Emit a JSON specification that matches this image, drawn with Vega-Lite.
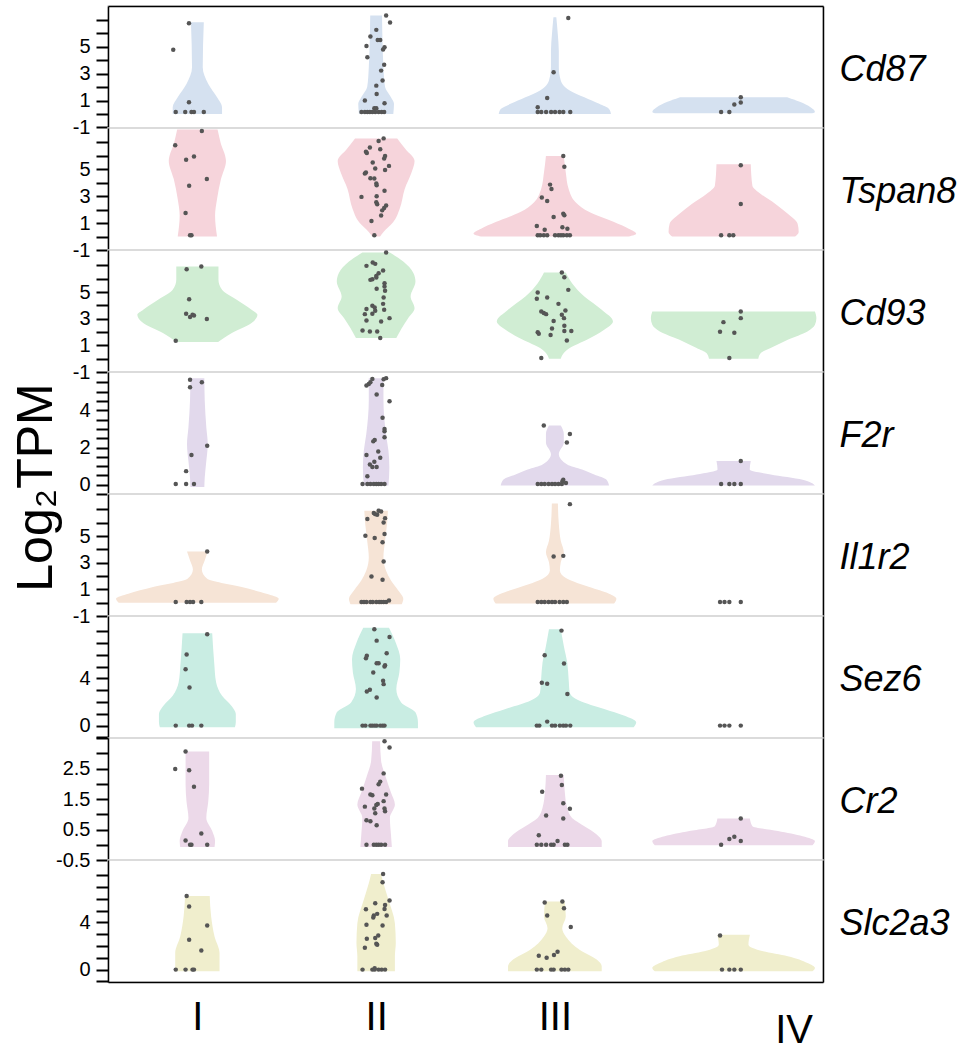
{
  "$schema": "https://vega.github.io/schema/vega-lite/v6.json",
  "padding": {"left": 10, "top": 5, "right": 0, "bottom": 0},
  "spacing": 0,
  "bounds": "flush",
  "config": {
    "view": {"stroke": "#d9d9d9", "strokeWidth": 1.5},
    "font": "Liberation Sans",
    "axis": {"grid": false, "labelFont": "Liberation Sans", "labelFontSize": 20, "labelColor": "black", "tickColor": "black", "tickWidth": 2, "tickSize": 12, "labelPadding": 6, "domainColor": "black", "domainWidth": 1.5, "labelOverlap": false, "titleFont": "Liberation Sans", "titleFontWeight": "normal", "titleColor": "black"},
    "axisRight": {"labels": false, "ticks": false, "titleAngle": 0, "titleAlign": "left", "titleBaseline": "middle", "titleX": 16, "titleY": 63, "titleFontSize": 36, "titleFontStyle": "italic"}
  },
  "datasets": {
    "vio": [
      {"g":"Cd87","k":"I","v":6.84,"lo":0.464,"hi":0.536},{"g":"Cd87","k":"I","v":3.48,"lo":0.470,"hi":0.530},{"g":"Cd87","k":"I","v":2.24,"lo":0.439,"hi":0.561},{"g":"Cd87","k":"I","v":1.24,"lo":0.390,"hi":0.610},{"g":"Cd87","k":"I","v":0.5,"lo":0.362,"hi":0.638},{"g":"Cd87","k":"I","v":0,"lo":0.362,"hi":0.638},
      {"g":"Cd87","k":"II","v":7.34,"lo":1.467,"hi":1.533},{"g":"Cd87","k":"II","v":3.48,"lo":1.459,"hi":1.541},{"g":"Cd87","k":"II","v":2.0,"lo":1.450,"hi":1.550},{"g":"Cd87","k":"II","v":1.24,"lo":1.417,"hi":1.583},{"g":"Cd87","k":"II","v":0.75,"lo":1.400,"hi":1.600},{"g":"Cd87","k":"II","v":0,"lo":1.404,"hi":1.596},
      {"g":"Cd87","k":"III","v":7.21,"lo":2.492,"hi":2.508},{"g":"Cd87","k":"III","v":6.0,"lo":2.484,"hi":2.516},{"g":"Cd87","k":"III","v":4.7,"lo":2.478,"hi":2.522},{"g":"Cd87","k":"III","v":3.5,"lo":2.478,"hi":2.522},{"g":"Cd87","k":"III","v":2.5,"lo":2.467,"hi":2.533},{"g":"Cd87","k":"III","v":1.75,"lo":2.417,"hi":2.583},{"g":"Cd87","k":"III","v":1.24,"lo":2.335,"hi":2.665},{"g":"Cd87","k":"III","v":0.75,"lo":2.252,"hi":2.748},{"g":"Cd87","k":"III","v":0.37,"lo":2.197,"hi":2.803},{"g":"Cd87","k":"III","v":0,"lo":2.186,"hi":2.814},
      {"g":"Cd87","k":"IV","v":1.24,"lo":3.20,"hi":3.80},{"g":"Cd87","k":"IV","v":0.9,"lo":3.13,"hi":3.87},{"g":"Cd87","k":"IV","v":0.5,"lo":3.07,"hi":3.93},{"g":"Cd87","k":"IV","v":0.15,"lo":3.045,"hi":3.955},{"g":"Cd87","k":"IV","v":0.05,"lo":3.06,"hi":3.94},

      {"g":"Tspan8","k":"I","v":7.94,"lo":0.387,"hi":0.613},{"g":"Tspan8","k":"I","v":6.96,"lo":0.370,"hi":0.630},{"g":"Tspan8","k":"I","v":5.61,"lo":0.340,"hi":0.660},{"g":"Tspan8","k":"I","v":4.26,"lo":0.368,"hi":0.632},{"g":"Tspan8","k":"I","v":2.79,"lo":0.390,"hi":0.610},{"g":"Tspan8","k":"I","v":1.56,"lo":0.401,"hi":0.599},{"g":"Tspan8","k":"I","v":0,"lo":0.390,"hi":0.610},
      {"g":"Tspan8","k":"II","v":7.28,"lo":1.382,"hi":1.618},{"g":"Tspan8","k":"II","v":6.47,"lo":1.335,"hi":1.665},{"g":"Tspan8","k":"II","v":5.61,"lo":1.285,"hi":1.715},{"g":"Tspan8","k":"II","v":4.75,"lo":1.302,"hi":1.698},{"g":"Tspan8","k":"II","v":3.53,"lo":1.340,"hi":1.660},{"g":"Tspan8","k":"II","v":2.06,"lo":1.368,"hi":1.632},{"g":"Tspan8","k":"II","v":1.07,"lo":1.404,"hi":1.596},{"g":"Tspan8","k":"II","v":0.34,"lo":1.459,"hi":1.541},{"g":"Tspan8","k":"II","v":0,"lo":1.478,"hi":1.522},
      {"g":"Tspan8","k":"III","v":5.98,"lo":2.450,"hi":2.550},{"g":"Tspan8","k":"III","v":4.75,"lo":2.439,"hi":2.561},{"g":"Tspan8","k":"III","v":3.53,"lo":2.423,"hi":2.577},{"g":"Tspan8","k":"III","v":2.55,"lo":2.384,"hi":2.616},{"g":"Tspan8","k":"III","v":1.81,"lo":2.307,"hi":2.693},{"g":"Tspan8","k":"III","v":1.07,"lo":2.169,"hi":2.831},{"g":"Tspan8","k":"III","v":0.58,"lo":2.087,"hi":2.913},{"g":"Tspan8","k":"III","v":0.21,"lo":2.045,"hi":2.955},{"g":"Tspan8","k":"III","v":0,"lo":2.087,"hi":2.913},
      {"g":"Tspan8","k":"IV","v":5.37,"lo":3.404,"hi":3.596},{"g":"Tspan8","k":"IV","v":3.77,"lo":3.395,"hi":3.605},{"g":"Tspan8","k":"IV","v":3.16,"lo":3.348,"hi":3.652},{"g":"Tspan8","k":"IV","v":2.42,"lo":3.266,"hi":3.734},{"g":"Tspan8","k":"IV","v":1.69,"lo":3.197,"hi":3.803},{"g":"Tspan8","k":"IV","v":0.95,"lo":3.142,"hi":3.858},{"g":"Tspan8","k":"IV","v":0.34,"lo":3.136,"hi":3.864},{"g":"Tspan8","k":"IV","v":0,"lo":3.156,"hi":3.844},

      {"g":"Cd93","k":"I","v":6.91,"lo":0.382,"hi":0.618},{"g":"Cd93","k":"I","v":5.91,"lo":0.382,"hi":0.618},{"g":"Cd93","k":"I","v":5.16,"lo":0.362,"hi":0.638},{"g":"Cd93","k":"I","v":4.41,"lo":0.280,"hi":0.720},{"g":"Cd93","k":"I","v":3.67,"lo":0.197,"hi":0.803},{"g":"Cd93","k":"I","v":3.29,"lo":0.164,"hi":0.836},{"g":"Cd93","k":"I","v":2.67,"lo":0.197,"hi":0.803},{"g":"Cd93","k":"I","v":1.92,"lo":0.307,"hi":0.693},{"g":"Cd93","k":"I","v":1.25,"lo":0.384,"hi":0.616},
      {"g":"Cd93","k":"II","v":7.96,"lo":1.423,"hi":1.577},{"g":"Cd93","k":"II","v":7.28,"lo":1.348,"hi":1.652},{"g":"Cd93","k":"II","v":6.41,"lo":1.291,"hi":1.709},{"g":"Cd93","k":"II","v":5.79,"lo":1.280,"hi":1.720},{"g":"Cd93","k":"II","v":4.66,"lo":1.307,"hi":1.693},{"g":"Cd93","k":"II","v":3.79,"lo":1.285,"hi":1.715},{"g":"Cd93","k":"II","v":3.04,"lo":1.321,"hi":1.679},{"g":"Cd93","k":"II","v":2.29,"lo":1.357,"hi":1.643},{"g":"Cd93","k":"II","v":1.55,"lo":1.387,"hi":1.613},
      {"g":"Cd93","k":"III","v":6.46,"lo":2.439,"hi":2.561},{"g":"Cd93","k":"III","v":5.66,"lo":2.404,"hi":2.596},{"g":"Cd93","k":"III","v":4.66,"lo":2.335,"hi":2.665},{"g":"Cd93","k":"III","v":3.67,"lo":2.238,"hi":2.762},{"g":"Cd93","k":"III","v":2.79,"lo":2.175,"hi":2.825},{"g":"Cd93","k":"III","v":2.17,"lo":2.224,"hi":2.776},{"g":"Cd93","k":"III","v":1.42,"lo":2.321,"hi":2.679},{"g":"Cd93","k":"III","v":0.80,"lo":2.417,"hi":2.583},{"g":"Cd93","k":"III","v":0.42,"lo":2.450,"hi":2.550},{"g":"Cd93","k":"III","v":0,"lo":2.467,"hi":2.533},
      {"g":"Cd93","k":"IV","v":3.54,"lo":3.045,"hi":3.955},{"g":"Cd93","k":"IV","v":3.04,"lo":3.037,"hi":3.963},{"g":"Cd93","k":"IV","v":2.54,"lo":3.045,"hi":3.955},{"g":"Cd93","k":"IV","v":2.04,"lo":3.087,"hi":3.913},{"g":"Cd93","k":"IV","v":1.42,"lo":3.197,"hi":3.803},{"g":"Cd93","k":"IV","v":0.80,"lo":3.293,"hi":3.707},{"g":"Cd93","k":"IV","v":0.42,"lo":3.348,"hi":3.652},{"g":"Cd93","k":"IV","v":0,"lo":3.362,"hi":3.638},

      {"g":"F2r","k":"I","v":5.73,"lo":0.461,"hi":0.539},{"g":"F2r","k":"I","v":4.55,"lo":0.459,"hi":0.541},{"g":"F2r","k":"I","v":3.09,"lo":0.450,"hi":0.550},{"g":"F2r","k":"I","v":2.18,"lo":0.442,"hi":0.558},{"g":"F2r","k":"I","v":1.27,"lo":0.450,"hi":0.550},{"g":"F2r","k":"I","v":0.36,"lo":0.459,"hi":0.541},{"g":"F2r","k":"I","v":-0.13,"lo":0.461,"hi":0.539},
      {"g":"F2r","k":"II","v":5.73,"lo":1.459,"hi":1.541},{"g":"F2r","k":"II","v":4.55,"lo":1.459,"hi":1.541},{"g":"F2r","k":"II","v":2.73,"lo":1.445,"hi":1.555},{"g":"F2r","k":"II","v":1.82,"lo":1.431,"hi":1.569},{"g":"F2r","k":"II","v":0.91,"lo":1.426,"hi":1.574},{"g":"F2r","k":"II","v":-0.04,"lo":1.431,"hi":1.569},
      {"g":"F2r","k":"III","v":3.18,"lo":2.467,"hi":2.533},{"g":"F2r","k":"III","v":2.73,"lo":2.450,"hi":2.550},{"g":"F2r","k":"III","v":2.27,"lo":2.450,"hi":2.550},{"g":"F2r","k":"III","v":1.64,"lo":2.478,"hi":2.522},{"g":"F2r","k":"III","v":1.09,"lo":2.431,"hi":2.569},{"g":"F2r","k":"III","v":0.82,"lo":2.348,"hi":2.652},{"g":"F2r","k":"III","v":0.55,"lo":2.280,"hi":2.720},{"g":"F2r","k":"III","v":0.27,"lo":2.211,"hi":2.789},{"g":"F2r","k":"III","v":-0.04,"lo":2.197,"hi":2.803},
      {"g":"F2r","k":"IV","v":1.27,"lo":3.404,"hi":3.596},{"g":"F2r","k":"IV","v":0.82,"lo":3.410,"hi":3.590},{"g":"F2r","k":"IV","v":0.55,"lo":3.293,"hi":3.707},{"g":"F2r","k":"IV","v":0.27,"lo":3.114,"hi":3.886},{"g":"F2r","k":"IV","v":-0.04,"lo":3.045,"hi":3.955},

      {"g":"Il1r2","k":"I","v":3.83,"lo":0.442,"hi":0.558},{"g":"Il1r2","k":"I","v":3.16,"lo":0.459,"hi":0.541},{"g":"Il1r2","k":"I","v":2.49,"lo":0.475,"hi":0.525},{"g":"Il1r2","k":"I","v":1.79,"lo":0.445,"hi":0.555},{"g":"Il1r2","k":"I","v":1.17,"lo":0.252,"hi":0.748},{"g":"Il1r2","k":"I","v":0.67,"lo":0.114,"hi":0.886},{"g":"Il1r2","k":"I","v":0.30,"lo":0.045,"hi":0.955},{"g":"Il1r2","k":"I","v":0,"lo":0.060,"hi":0.940},
      {"g":"Il1r2","k":"II","v":6.89,"lo":1.434,"hi":1.566},{"g":"Il1r2","k":"II","v":5.90,"lo":1.439,"hi":1.561},{"g":"Il1r2","k":"II","v":4.65,"lo":1.450,"hi":1.550},{"g":"Il1r2","k":"II","v":3.41,"lo":1.459,"hi":1.541},{"g":"Il1r2","k":"II","v":2.41,"lo":1.445,"hi":1.555},{"g":"Il1r2","k":"II","v":1.67,"lo":1.417,"hi":1.583},{"g":"Il1r2","k":"II","v":0.92,"lo":1.376,"hi":1.624},{"g":"Il1r2","k":"II","v":0.30,"lo":1.348,"hi":1.652},{"g":"Il1r2","k":"II","v":-0.12,"lo":1.357,"hi":1.643},
      {"g":"Il1r2","k":"III","v":7.44,"lo":2.483,"hi":2.517},{"g":"Il1r2","k":"III","v":5.90,"lo":2.478,"hi":2.522},{"g":"Il1r2","k":"III","v":4.65,"lo":2.467,"hi":2.533},{"g":"Il1r2","k":"III","v":3.78,"lo":2.450,"hi":2.550},{"g":"Il1r2","k":"III","v":3.03,"lo":2.467,"hi":2.533},{"g":"Il1r2","k":"III","v":2.41,"lo":2.472,"hi":2.528},{"g":"Il1r2","k":"III","v":1.79,"lo":2.431,"hi":2.569},{"g":"Il1r2","k":"III","v":1.17,"lo":2.307,"hi":2.693},{"g":"Il1r2","k":"III","v":0.67,"lo":2.197,"hi":2.803},{"g":"Il1r2","k":"III","v":0.30,"lo":2.156,"hi":2.844},{"g":"Il1r2","k":"III","v":-0.07,"lo":2.169,"hi":2.831},

      {"g":"Sez6","k":"I","v":7.83,"lo":0.417,"hi":0.583},{"g":"Sez6","k":"I","v":5.35,"lo":0.406,"hi":0.594},{"g":"Sez6","k":"I","v":3.66,"lo":0.395,"hi":0.605},{"g":"Sez6","k":"I","v":2.54,"lo":0.362,"hi":0.638},{"g":"Sez6","k":"I","v":1.69,"lo":0.310,"hi":0.690},{"g":"Sez6","k":"I","v":0.99,"lo":0.285,"hi":0.715},{"g":"Sez6","k":"I","v":0.28,"lo":0.285,"hi":0.715},{"g":"Sez6","k":"I","v":-0.14,"lo":0.290,"hi":0.710},
      {"g":"Sez6","k":"II","v":8.31,"lo":1.428,"hi":1.572},{"g":"Sez6","k":"II","v":7.04,"lo":1.390,"hi":1.610},{"g":"Sez6","k":"II","v":5.63,"lo":1.365,"hi":1.635},{"g":"Sez6","k":"II","v":4.51,"lo":1.370,"hi":1.630},{"g":"Sez6","k":"II","v":3.10,"lo":1.387,"hi":1.613},{"g":"Sez6","k":"II","v":1.97,"lo":1.360,"hi":1.640},{"g":"Sez6","k":"II","v":1.13,"lo":1.280,"hi":1.720},{"g":"Sez6","k":"II","v":0.28,"lo":1.266,"hi":1.734},{"g":"Sez6","k":"II","v":-0.23,"lo":1.266,"hi":1.734},
      {"g":"Sez6","k":"III","v":8.17,"lo":2.467,"hi":2.533},{"g":"Sez6","k":"III","v":6.76,"lo":2.450,"hi":2.550},{"g":"Sez6","k":"III","v":5.35,"lo":2.431,"hi":2.569},{"g":"Sez6","k":"III","v":3.94,"lo":2.423,"hi":2.577},{"g":"Sez6","k":"III","v":2.82,"lo":2.417,"hi":2.583},{"g":"Sez6","k":"III","v":2.11,"lo":2.362,"hi":2.638},{"g":"Sez6","k":"III","v":1.41,"lo":2.224,"hi":2.776},{"g":"Sez6","k":"III","v":0.85,"lo":2.114,"hi":2.886},{"g":"Sez6","k":"III","v":0.28,"lo":2.045,"hi":2.955},{"g":"Sez6","k":"III","v":-0.14,"lo":2.059,"hi":2.941},

      {"g":"Cr2","k":"I","v":3.06,"lo":0.434,"hi":0.566},{"g":"Cr2","k":"I","v":1.98,"lo":0.434,"hi":0.566},{"g":"Cr2","k":"I","v":1.43,"lo":0.439,"hi":0.561},{"g":"Cr2","k":"I","v":0.88,"lo":0.450,"hi":0.550},{"g":"Cr2","k":"I","v":0.45,"lo":0.417,"hi":0.583},{"g":"Cr2","k":"I","v":0.12,"lo":0.401,"hi":0.599},{"g":"Cr2","k":"I","v":-0.07,"lo":0.404,"hi":0.596},
      {"g":"Cr2","k":"II","v":3.39,"lo":1.478,"hi":1.522},{"g":"Cr2","k":"II","v":2.75,"lo":1.472,"hi":1.528},{"g":"Cr2","k":"II","v":2.20,"lo":1.445,"hi":1.555},{"g":"Cr2","k":"II","v":1.71,"lo":1.417,"hi":1.583},{"g":"Cr2","k":"II","v":1.32,"lo":1.395,"hi":1.605},{"g":"Cr2","k":"II","v":0.88,"lo":1.423,"hi":1.577},{"g":"Cr2","k":"II","v":0.34,"lo":1.417,"hi":1.583},{"g":"Cr2","k":"II","v":-0.07,"lo":1.412,"hi":1.588},
      {"g":"Cr2","k":"III","v":2.29,"lo":2.450,"hi":2.550},{"g":"Cr2","k":"III","v":1.76,"lo":2.445,"hi":2.555},{"g":"Cr2","k":"III","v":1.21,"lo":2.431,"hi":2.569},{"g":"Cr2","k":"III","v":0.88,"lo":2.404,"hi":2.596},{"g":"Cr2","k":"III","v":0.61,"lo":2.335,"hi":2.665},{"g":"Cr2","k":"III","v":0.34,"lo":2.266,"hi":2.734},{"g":"Cr2","k":"III","v":0.12,"lo":2.238,"hi":2.762},{"g":"Cr2","k":"III","v":-0.07,"lo":2.238,"hi":2.762},
      {"g":"Cr2","k":"IV","v":0.86,"lo":3.409,"hi":3.591},{"g":"Cr2","k":"IV","v":0.61,"lo":3.395,"hi":3.605},{"g":"Cr2","k":"IV","v":0.45,"lo":3.252,"hi":3.748},{"g":"Cr2","k":"IV","v":0.28,"lo":3.114,"hi":3.886},{"g":"Cr2","k":"IV","v":0.12,"lo":3.045,"hi":3.955},{"g":"Cr2","k":"IV","v":-0.02,"lo":3.059,"hi":3.941},

      {"g":"Slc2a3","k":"I","v":6.25,"lo":0.431,"hi":0.569},{"g":"Slc2a3","k":"I","v":4.51,"lo":0.423,"hi":0.577},{"g":"Slc2a3","k":"I","v":2.82,"lo":0.404,"hi":0.596},{"g":"Slc2a3","k":"I","v":1.41,"lo":0.376,"hi":0.624},{"g":"Slc2a3","k":"I","v":0.28,"lo":0.376,"hi":0.624},{"g":"Slc2a3","k":"I","v":-0.14,"lo":0.376,"hi":0.624},
      {"g":"Slc2a3","k":"II","v":8.11,"lo":1.472,"hi":1.528},{"g":"Slc2a3","k":"II","v":7.32,"lo":1.459,"hi":1.541},{"g":"Slc2a3","k":"II","v":5.92,"lo":1.431,"hi":1.569},{"g":"Slc2a3","k":"II","v":3.94,"lo":1.395,"hi":1.605},{"g":"Slc2a3","k":"II","v":2.25,"lo":1.390,"hi":1.610},{"g":"Slc2a3","k":"II","v":1.13,"lo":1.395,"hi":1.605},{"g":"Slc2a3","k":"II","v":-0.14,"lo":1.395,"hi":1.605},
      {"g":"Slc2a3","k":"III","v":5.77,"lo":2.445,"hi":2.555},{"g":"Slc2a3","k":"III","v":4.51,"lo":2.439,"hi":2.561},{"g":"Slc2a3","k":"III","v":3.52,"lo":2.459,"hi":2.541},{"g":"Slc2a3","k":"III","v":2.82,"lo":2.439,"hi":2.561},{"g":"Slc2a3","k":"III","v":1.69,"lo":2.362,"hi":2.638},{"g":"Slc2a3","k":"III","v":0.85,"lo":2.266,"hi":2.734},{"g":"Slc2a3","k":"III","v":0.28,"lo":2.238,"hi":2.762},{"g":"Slc2a3","k":"III","v":-0.14,"lo":2.238,"hi":2.762},
      {"g":"Slc2a3","k":"IV","v":2.96,"lo":3.409,"hi":3.591},{"g":"Slc2a3","k":"IV","v":2.11,"lo":3.417,"hi":3.583},{"g":"Slc2a3","k":"IV","v":1.55,"lo":3.335,"hi":3.665},{"g":"Slc2a3","k":"IV","v":1.13,"lo":3.197,"hi":3.803},{"g":"Slc2a3","k":"IV","v":0.56,"lo":3.087,"hi":3.913},{"g":"Slc2a3","k":"IV","v":0.14,"lo":3.045,"hi":3.955},{"g":"Slc2a3","k":"IV","v":-0.14,"lo":3.059,"hi":3.941}
    ],
    "pts": [
      {"g":"Cd87","x":0.379,"v":0.15},{"g":"Cd87","x":0.432,"v":0.15},{"g":"Cd87","x":0.467,"v":0.15},{"g":"Cd87","x":0.481,"v":0.15},{"g":"Cd87","x":0.536,"v":0.15},{"g":"Cd87","x":0.453,"v":0.87},{"g":"Cd87","x":0.365,"v":4.78},{"g":"Cd87","x":0.453,"v":6.77},
      {"g":"Cd87","x":1.556,"v":7.34},{"g":"Cd87","x":1.578,"v":6.82},{"g":"Cd87","x":1.501,"v":6.27},{"g":"Cd87","x":1.468,"v":5.77},{"g":"Cd87","x":1.509,"v":5.52},{"g":"Cd87","x":1.523,"v":5.52},{"g":"Cd87","x":1.446,"v":5.07},{"g":"Cd87","x":1.547,"v":4.98},{"g":"Cd87","x":1.539,"v":4.80},{"g":"Cd87","x":1.451,"v":4.23},{"g":"Cd87","x":1.545,"v":3.66},{"g":"Cd87","x":1.528,"v":3.23},{"g":"Cd87","x":1.536,"v":2.49},{"g":"Cd87","x":1.501,"v":2.11},{"g":"Cd87","x":1.503,"v":1.49},{"g":"Cd87","x":1.437,"v":1.0},{"g":"Cd87","x":1.547,"v":0.80},{"g":"Cd87","x":1.490,"v":0.42},{"g":"Cd87","x":1.501,"v":0.42},{"g":"Cd87","x":1.418,"v":0.15},{"g":"Cd87","x":1.437,"v":0.15},{"g":"Cd87","x":1.451,"v":0.15},{"g":"Cd87","x":1.465,"v":0.15},{"g":"Cd87","x":1.479,"v":0.15},{"g":"Cd87","x":1.495,"v":0.15},{"g":"Cd87","x":1.514,"v":0.15},{"g":"Cd87","x":1.531,"v":0.15},{"g":"Cd87","x":1.545,"v":0.15},
      {"g":"Cd87","x":2.575,"v":7.16},{"g":"Cd87","x":2.493,"v":3.11},{"g":"Cd87","x":2.457,"v":1.19},{"g":"Cd87","x":2.404,"v":0.50},{"g":"Cd87","x":2.404,"v":0.15},{"g":"Cd87","x":2.424,"v":0.15},{"g":"Cd87","x":2.451,"v":0.15},{"g":"Cd87","x":2.479,"v":0.15},{"g":"Cd87","x":2.501,"v":0.15},{"g":"Cd87","x":2.526,"v":0.15},{"g":"Cd87","x":2.547,"v":0.15},{"g":"Cd87","x":2.586,"v":0.15},
      {"g":"Cd87","x":3.430,"v":0.15},{"g":"Cd87","x":3.476,"v":0.15},{"g":"Cd87","x":3.504,"v":0.70},{"g":"Cd87","x":3.540,"v":0.85},{"g":"Cd87","x":3.540,"v":1.24},

      {"g":"Tspan8","x":0.525,"v":7.82},{"g":"Tspan8","x":0.376,"v":6.77},{"g":"Tspan8","x":0.437,"v":5.69},{"g":"Tspan8","x":0.481,"v":5.93},{"g":"Tspan8","x":0.553,"v":4.26},{"g":"Tspan8","x":0.454,"v":3.77},{"g":"Tspan8","x":0.434,"v":1.74},{"g":"Tspan8","x":0.459,"v":0.09},{"g":"Tspan8","x":0.467,"v":0.09},
      {"g":"Tspan8","x":1.542,"v":7.28},{"g":"Tspan8","x":1.514,"v":7.08},{"g":"Tspan8","x":1.465,"v":6.60},{"g":"Tspan8","x":1.443,"v":6.28},{"g":"Tspan8","x":1.448,"v":6.19},{"g":"Tspan8","x":1.523,"v":6.47},{"g":"Tspan8","x":1.550,"v":5.98},{"g":"Tspan8","x":1.545,"v":5.79},{"g":"Tspan8","x":1.481,"v":5.49},{"g":"Tspan8","x":1.572,"v":5.24},{"g":"Tspan8","x":1.495,"v":5.05},{"g":"Tspan8","x":1.550,"v":4.93},{"g":"Tspan8","x":1.443,"v":4.75},{"g":"Tspan8","x":1.437,"v":4.67},{"g":"Tspan8","x":1.468,"v":4.33},{"g":"Tspan8","x":1.490,"v":4.31},{"g":"Tspan8","x":1.501,"v":3.93},{"g":"Tspan8","x":1.503,"v":3.81},{"g":"Tspan8","x":1.547,"v":3.40},{"g":"Tspan8","x":1.418,"v":2.94},{"g":"Tspan8","x":1.503,"v":2.99},{"g":"Tspan8","x":1.501,"v":2.55},{"g":"Tspan8","x":1.506,"v":2.40},{"g":"Tspan8","x":1.556,"v":2.30},{"g":"Tspan8","x":1.545,"v":2.11},{"g":"Tspan8","x":1.534,"v":1.94},{"g":"Tspan8","x":1.528,"v":1.56},{"g":"Tspan8","x":1.474,"v":1.15},{"g":"Tspan8","x":1.490,"v":0.09},
      {"g":"Tspan8","x":2.547,"v":5.98},{"g":"Tspan8","x":2.553,"v":5.17},{"g":"Tspan8","x":2.473,"v":3.85},{"g":"Tspan8","x":2.481,"v":3.53},{"g":"Tspan8","x":2.427,"v":2.89},{"g":"Tspan8","x":2.457,"v":2.64},{"g":"Tspan8","x":2.547,"v":1.69},{"g":"Tspan8","x":2.553,"v":1.57},{"g":"Tspan8","x":2.493,"v":1.44},{"g":"Tspan8","x":2.399,"v":0.78},{"g":"Tspan8","x":2.542,"v":0.68},{"g":"Tspan8","x":2.443,"v":0.51},{"g":"Tspan8","x":2.570,"v":0.58},{"g":"Tspan8","x":2.404,"v":0.09},{"g":"Tspan8","x":2.418,"v":0.09},{"g":"Tspan8","x":2.438,"v":0.09},{"g":"Tspan8","x":2.457,"v":0.09},{"g":"Tspan8","x":2.501,"v":0.09},{"g":"Tspan8","x":2.520,"v":0.09},{"g":"Tspan8","x":2.534,"v":0.09},{"g":"Tspan8","x":2.547,"v":0.09},{"g":"Tspan8","x":2.567,"v":0.09},{"g":"Tspan8","x":2.584,"v":0.09},
      {"g":"Tspan8","x":3.540,"v":5.29},{"g":"Tspan8","x":3.540,"v":2.42},{"g":"Tspan8","x":3.430,"v":0.09},{"g":"Tspan8","x":3.476,"v":0.09},{"g":"Tspan8","x":3.498,"v":0.09},

      {"g":"Cd93","x":0.440,"v":6.71},{"g":"Cd93","x":0.522,"v":6.91},{"g":"Cd93","x":0.454,"v":4.46},{"g":"Cd93","x":0.437,"v":3.37},{"g":"Cd93","x":0.473,"v":3.29},{"g":"Cd93","x":0.459,"v":3.12},{"g":"Cd93","x":0.481,"v":3.24},{"g":"Cd93","x":0.553,"v":2.97},{"g":"Cd93","x":0.379,"v":1.35},
      {"g":"Cd93","x":1.556,"v":7.96},{"g":"Cd93","x":1.481,"v":7.21},{"g":"Cd93","x":1.495,"v":7.11},{"g":"Cd93","x":1.446,"v":6.96},{"g":"Cd93","x":1.514,"v":6.41},{"g":"Cd93","x":1.539,"v":6.61},{"g":"Cd93","x":1.501,"v":6.21},{"g":"Cd93","x":1.479,"v":5.96},{"g":"Cd93","x":1.468,"v":5.91},{"g":"Cd93","x":1.501,"v":6.08},{"g":"Cd93","x":1.547,"v":5.66},{"g":"Cd93","x":1.547,"v":5.41},{"g":"Cd93","x":1.550,"v":5.09},{"g":"Cd93","x":1.503,"v":5.24},{"g":"Cd93","x":1.542,"v":4.59},{"g":"Cd93","x":1.539,"v":4.11},{"g":"Cd93","x":1.479,"v":3.97},{"g":"Cd93","x":1.492,"v":3.84},{"g":"Cd93","x":1.446,"v":3.72},{"g":"Cd93","x":1.545,"v":3.67},{"g":"Cd93","x":1.495,"v":3.59},{"g":"Cd93","x":1.437,"v":3.34},{"g":"Cd93","x":1.479,"v":3.37},{"g":"Cd93","x":1.575,"v":3.04},{"g":"Cd93","x":1.446,"v":2.87},{"g":"Cd93","x":1.528,"v":2.79},{"g":"Cd93","x":1.424,"v":2.12},{"g":"Cd93","x":1.465,"v":2.04},{"g":"Cd93","x":1.506,"v":2.04},{"g":"Cd93","x":1.523,"v":1.55},
      {"g":"Cd93","x":2.539,"v":6.46},{"g":"Cd93","x":2.553,"v":6.11},{"g":"Cd93","x":2.575,"v":5.16},{"g":"Cd93","x":2.404,"v":4.96},{"g":"Cd93","x":2.399,"v":4.49},{"g":"Cd93","x":2.457,"v":4.59},{"g":"Cd93","x":2.520,"v":4.11},{"g":"Cd93","x":2.424,"v":3.54},{"g":"Cd93","x":2.438,"v":3.42},{"g":"Cd93","x":2.451,"v":3.34},{"g":"Cd93","x":2.559,"v":3.62},{"g":"Cd93","x":2.539,"v":3.29},{"g":"Cd93","x":2.551,"v":3.04},{"g":"Cd93","x":2.493,"v":2.82},{"g":"Cd93","x":2.553,"v":2.47},{"g":"Cd93","x":2.484,"v":2.27},{"g":"Cd93","x":2.404,"v":1.99},{"g":"Cd93","x":2.410,"v":1.87},{"g":"Cd93","x":2.476,"v":1.77},{"g":"Cd93","x":2.553,"v":2.07},{"g":"Cd93","x":2.592,"v":2.07},{"g":"Cd93","x":2.567,"v":1.37},{"g":"Cd93","x":2.424,"v":0.05},
      {"g":"Cd93","x":3.540,"v":3.54},{"g":"Cd93","x":3.540,"v":3.04},{"g":"Cd93","x":3.443,"v":2.74},{"g":"Cd93","x":3.424,"v":2.02},{"g":"Cd93","x":3.504,"v":1.94},{"g":"Cd93","x":3.476,"v":0.05},

      {"g":"F2r","x":0.459,"v":5.64},{"g":"F2r","x":0.525,"v":5.51},{"g":"F2r","x":0.459,"v":5.24},{"g":"F2r","x":0.555,"v":2.09},{"g":"F2r","x":0.467,"v":1.60},{"g":"F2r","x":0.437,"v":0.73},{"g":"F2r","x":0.379,"v":0.04},{"g":"F2r","x":0.437,"v":0.04},{"g":"F2r","x":0.481,"v":0.04},
      {"g":"F2r","x":1.556,"v":5.73},{"g":"F2r","x":1.542,"v":5.67},{"g":"F2r","x":1.479,"v":5.69},{"g":"F2r","x":1.468,"v":5.51},{"g":"F2r","x":1.446,"v":5.33},{"g":"F2r","x":1.534,"v":5.36},{"g":"F2r","x":1.459,"v":5.42},{"g":"F2r","x":1.503,"v":4.85},{"g":"F2r","x":1.575,"v":4.49},{"g":"F2r","x":1.536,"v":3.60},{"g":"F2r","x":1.547,"v":3.00},{"g":"F2r","x":1.547,"v":2.87},{"g":"F2r","x":1.547,"v":2.55},{"g":"F2r","x":1.492,"v":2.40},{"g":"F2r","x":1.484,"v":2.33},{"g":"F2r","x":1.512,"v":1.78},{"g":"F2r","x":1.446,"v":1.60},{"g":"F2r","x":1.523,"v":1.45},{"g":"F2r","x":1.490,"v":1.24},{"g":"F2r","x":1.465,"v":1.09},{"g":"F2r","x":1.479,"v":0.95},{"g":"F2r","x":1.503,"v":0.95},{"g":"F2r","x":1.451,"v":0.45},{"g":"F2r","x":1.424,"v":0.04},{"g":"F2r","x":1.451,"v":0.04},{"g":"F2r","x":1.468,"v":0.04},{"g":"F2r","x":1.487,"v":0.04},{"g":"F2r","x":1.501,"v":0.04},{"g":"F2r","x":1.514,"v":0.04},{"g":"F2r","x":1.528,"v":0.04},{"g":"F2r","x":1.547,"v":0.04},
      {"g":"F2r","x":2.438,"v":3.18},{"g":"F2r","x":2.584,"v":2.73},{"g":"F2r","x":2.567,"v":2.27},{"g":"F2r","x":2.404,"v":0.04},{"g":"F2r","x":2.424,"v":0.04},{"g":"F2r","x":2.443,"v":0.04},{"g":"F2r","x":2.465,"v":0.04},{"g":"F2r","x":2.484,"v":0.04},{"g":"F2r","x":2.501,"v":0.04},{"g":"F2r","x":2.520,"v":0.04},{"g":"F2r","x":2.539,"v":0.04},{"g":"F2r","x":2.547,"v":0.27},{"g":"F2r","x":2.542,"v":0.18},{"g":"F2r","x":2.562,"v":0.09},
      {"g":"F2r","x":3.540,"v":1.27},{"g":"F2r","x":3.430,"v":0.04},{"g":"F2r","x":3.476,"v":0.04},{"g":"F2r","x":3.504,"v":0.04},{"g":"F2r","x":3.540,"v":0.04},

      {"g":"Il1r2","x":0.555,"v":3.83},{"g":"Il1r2","x":0.379,"v":0.05},{"g":"Il1r2","x":0.440,"v":0.05},{"g":"Il1r2","x":0.459,"v":0.05},{"g":"Il1r2","x":0.476,"v":0.05},{"g":"Il1r2","x":0.522,"v":0.05},
      {"g":"Il1r2","x":1.514,"v":6.89},{"g":"Il1r2","x":1.528,"v":6.84},{"g":"Il1r2","x":1.487,"v":6.72},{"g":"Il1r2","x":1.506,"v":6.59},{"g":"Il1r2","x":1.495,"v":6.64},{"g":"Il1r2","x":1.451,"v":6.27},{"g":"Il1r2","x":1.550,"v":6.34},{"g":"Il1r2","x":1.542,"v":6.02},{"g":"Il1r2","x":1.440,"v":5.02},{"g":"Il1r2","x":1.547,"v":5.15},{"g":"Il1r2","x":1.492,"v":4.85},{"g":"Il1r2","x":1.536,"v":4.53},{"g":"Il1r2","x":1.542,"v":3.08},{"g":"Il1r2","x":1.474,"v":1.97},{"g":"Il1r2","x":1.536,"v":1.72},{"g":"Il1r2","x":1.418,"v":0.05},{"g":"Il1r2","x":1.432,"v":0.05},{"g":"Il1r2","x":1.446,"v":0.05},{"g":"Il1r2","x":1.468,"v":0.05},{"g":"Il1r2","x":1.481,"v":0.05},{"g":"Il1r2","x":1.501,"v":0.05},{"g":"Il1r2","x":1.517,"v":0.05},{"g":"Il1r2","x":1.528,"v":0.05},{"g":"Il1r2","x":1.542,"v":0.05},{"g":"Il1r2","x":1.556,"v":0.05},{"g":"Il1r2","x":1.572,"v":0.17},
      {"g":"Il1r2","x":2.584,"v":7.39},{"g":"Il1r2","x":2.493,"v":3.46},{"g":"Il1r2","x":2.547,"v":3.51},{"g":"Il1r2","x":2.404,"v":0.05},{"g":"Il1r2","x":2.424,"v":0.05},{"g":"Il1r2","x":2.443,"v":0.05},{"g":"Il1r2","x":2.465,"v":0.05},{"g":"Il1r2","x":2.484,"v":0.05},{"g":"Il1r2","x":2.501,"v":0.05},{"g":"Il1r2","x":2.526,"v":0.05},{"g":"Il1r2","x":2.547,"v":0.05},{"g":"Il1r2","x":2.567,"v":0.05},
      {"g":"Il1r2","x":3.424,"v":0.05},{"g":"Il1r2","x":3.449,"v":0.05},{"g":"Il1r2","x":3.476,"v":0.05},{"g":"Il1r2","x":3.540,"v":0.05},

      {"g":"Sez6","x":0.555,"v":7.75},{"g":"Sez6","x":0.440,"v":6.03},{"g":"Sez6","x":0.434,"v":4.79},{"g":"Sez6","x":0.456,"v":3.24},{"g":"Sez6","x":0.379,"v":0},{"g":"Sez6","x":0.454,"v":0},{"g":"Sez6","x":0.470,"v":0},{"g":"Sez6","x":0.522,"v":0},
      {"g":"Sez6","x":1.490,"v":8.17},{"g":"Sez6","x":1.503,"v":7.21},{"g":"Sez6","x":1.575,"v":7.52},{"g":"Sez6","x":1.559,"v":6.14},{"g":"Sez6","x":1.448,"v":5.92},{"g":"Sez6","x":1.443,"v":5.72},{"g":"Sez6","x":1.503,"v":5.30},{"g":"Sez6","x":1.514,"v":5.30},{"g":"Sez6","x":1.550,"v":5.13},{"g":"Sez6","x":1.547,"v":5.01},{"g":"Sez6","x":1.484,"v":4.51},{"g":"Sez6","x":1.539,"v":3.80},{"g":"Sez6","x":1.542,"v":3.52},{"g":"Sez6","x":1.448,"v":2.90},{"g":"Sez6","x":1.465,"v":3.04},{"g":"Sez6","x":1.503,"v":2.39},{"g":"Sez6","x":1.424,"v":0},{"g":"Sez6","x":1.440,"v":0},{"g":"Sez6","x":1.468,"v":0},{"g":"Sez6","x":1.479,"v":0},{"g":"Sez6","x":1.492,"v":0},{"g":"Sez6","x":1.503,"v":0},{"g":"Sez6","x":1.523,"v":0},{"g":"Sez6","x":1.536,"v":0},{"g":"Sez6","x":1.547,"v":0},
      {"g":"Sez6","x":2.537,"v":8.06},{"g":"Sez6","x":2.443,"v":5.97},{"g":"Sez6","x":2.551,"v":5.27},{"g":"Sez6","x":2.427,"v":3.63},{"g":"Sez6","x":2.457,"v":3.55},{"g":"Sez6","x":2.570,"v":2.68},{"g":"Sez6","x":2.457,"v":0.34},{"g":"Sez6","x":2.399,"v":0},{"g":"Sez6","x":2.413,"v":0},{"g":"Sez6","x":2.484,"v":0},{"g":"Sez6","x":2.501,"v":0},{"g":"Sez6","x":2.528,"v":0},{"g":"Sez6","x":2.547,"v":0},{"g":"Sez6","x":2.562,"v":0},{"g":"Sez6","x":2.586,"v":0},
      {"g":"Sez6","x":3.424,"v":0},{"g":"Sez6","x":3.449,"v":0},{"g":"Sez6","x":3.476,"v":0},{"g":"Sez6","x":3.540,"v":0},

      {"g":"Cr2","x":0.434,"v":3.06},{"g":"Cr2","x":0.376,"v":2.48},{"g":"Cr2","x":0.454,"v":2.44},{"g":"Cr2","x":0.481,"v":1.90},{"g":"Cr2","x":0.522,"v":0.37},{"g":"Cr2","x":0.434,"v":0.14},{"g":"Cr2","x":0.459,"v":0},{"g":"Cr2","x":0.467,"v":0},{"g":"Cr2","x":0.555,"v":0},
      {"g":"Cr2","x":1.547,"v":3.39},{"g":"Cr2","x":1.575,"v":3.19},{"g":"Cr2","x":1.542,"v":2.34},{"g":"Cr2","x":1.523,"v":2.07},{"g":"Cr2","x":1.514,"v":1.98},{"g":"Cr2","x":1.421,"v":1.84},{"g":"Cr2","x":1.468,"v":1.65},{"g":"Cr2","x":1.479,"v":1.62},{"g":"Cr2","x":1.556,"v":1.65},{"g":"Cr2","x":1.542,"v":1.43},{"g":"Cr2","x":1.509,"v":1.34},{"g":"Cr2","x":1.501,"v":1.30},{"g":"Cr2","x":1.437,"v":1.25},{"g":"Cr2","x":1.490,"v":1.19},{"g":"Cr2","x":1.547,"v":1.19},{"g":"Cr2","x":1.550,"v":1.10},{"g":"Cr2","x":1.495,"v":1.03},{"g":"Cr2","x":1.446,"v":0.80},{"g":"Cr2","x":1.468,"v":0.77},{"g":"Cr2","x":1.503,"v":0.64},{"g":"Cr2","x":1.446,"v":0},{"g":"Cr2","x":1.487,"v":0},{"g":"Cr2","x":1.501,"v":0},{"g":"Cr2","x":1.514,"v":0},{"g":"Cr2","x":1.528,"v":0},{"g":"Cr2","x":1.550,"v":0},
      {"g":"Cr2","x":2.534,"v":2.26},{"g":"Cr2","x":2.539,"v":1.96},{"g":"Cr2","x":2.429,"v":1.74},{"g":"Cr2","x":2.547,"v":1.36},{"g":"Cr2","x":2.584,"v":1.18},{"g":"Cr2","x":2.451,"v":0.96},{"g":"Cr2","x":2.547,"v":0.86},{"g":"Cr2","x":2.410,"v":0.31},{"g":"Cr2","x":2.515,"v":0.12},{"g":"Cr2","x":2.399,"v":0},{"g":"Cr2","x":2.424,"v":0},{"g":"Cr2","x":2.451,"v":0},{"g":"Cr2","x":2.479,"v":0},{"g":"Cr2","x":2.493,"v":0},{"g":"Cr2","x":2.556,"v":0},{"g":"Cr2","x":2.570,"v":0},
      {"g":"Cr2","x":3.540,"v":0.86},{"g":"Cr2","x":3.504,"v":0.26},{"g":"Cr2","x":3.476,"v":0.19},{"g":"Cr2","x":3.540,"v":0.12},{"g":"Cr2","x":3.430,"v":0},

      {"g":"Slc2a3","x":0.440,"v":6.25},{"g":"Slc2a3","x":0.454,"v":5.35},{"g":"Slc2a3","x":0.555,"v":3.75},{"g":"Slc2a3","x":0.454,"v":2.54},{"g":"Slc2a3","x":0.522,"v":1.63},{"g":"Slc2a3","x":0.379,"v":0},{"g":"Slc2a3","x":0.434,"v":0},{"g":"Slc2a3","x":0.473,"v":0},{"g":"Slc2a3","x":0.481,"v":0},
      {"g":"Slc2a3","x":1.539,"v":8.11},{"g":"Slc2a3","x":1.536,"v":7.41},{"g":"Slc2a3","x":1.575,"v":5.86},{"g":"Slc2a3","x":1.495,"v":5.63},{"g":"Slc2a3","x":1.550,"v":5.49},{"g":"Slc2a3","x":1.547,"v":5.15},{"g":"Slc2a3","x":1.443,"v":5.13},{"g":"Slc2a3","x":1.506,"v":4.73},{"g":"Slc2a3","x":1.487,"v":4.59},{"g":"Slc2a3","x":1.484,"v":4.42},{"g":"Slc2a3","x":1.559,"v":4.59},{"g":"Slc2a3","x":1.446,"v":3.80},{"g":"Slc2a3","x":1.536,"v":3.75},{"g":"Slc2a3","x":1.512,"v":2.90},{"g":"Slc2a3","x":1.448,"v":2.62},{"g":"Slc2a3","x":1.495,"v":2.68},{"g":"Slc2a3","x":1.501,"v":2.20},{"g":"Slc2a3","x":1.506,"v":2.11},{"g":"Slc2a3","x":1.437,"v":1.86},{"g":"Slc2a3","x":1.424,"v":0},{"g":"Slc2a3","x":1.479,"v":0},{"g":"Slc2a3","x":1.492,"v":0},{"g":"Slc2a3","x":1.514,"v":0},{"g":"Slc2a3","x":1.531,"v":0},{"g":"Slc2a3","x":1.550,"v":0},{"g":"Slc2a3","x":1.492,"v":0.11},
      {"g":"Slc2a3","x":2.443,"v":5.69},{"g":"Slc2a3","x":2.542,"v":5.77},{"g":"Slc2a3","x":2.551,"v":5.21},{"g":"Slc2a3","x":2.457,"v":4.59},{"g":"Slc2a3","x":2.589,"v":3.61},{"g":"Slc2a3","x":2.410,"v":1.18},{"g":"Slc2a3","x":2.454,"v":1.01},{"g":"Slc2a3","x":2.495,"v":1.24},{"g":"Slc2a3","x":2.515,"v":1.52},{"g":"Slc2a3","x":2.399,"v":0},{"g":"Slc2a3","x":2.424,"v":0},{"g":"Slc2a3","x":2.479,"v":0},{"g":"Slc2a3","x":2.493,"v":0},{"g":"Slc2a3","x":2.537,"v":0},{"g":"Slc2a3","x":2.556,"v":0},{"g":"Slc2a3","x":2.575,"v":0},
      {"g":"Slc2a3","x":3.424,"v":2.90},{"g":"Slc2a3","x":3.435,"v":0},{"g":"Slc2a3","x":3.476,"v":0},{"g":"Slc2a3","x":3.504,"v":0},{"g":"Slc2a3","x":3.540,"v":0}
    ]
  },
  "vconcat": [
    {
      "width": 715, "height": 122,
      "layer": [
        {"data": {"name": "vio"}, "transform": [{"filter": "datum.g == 'Cd87'"}],
         "mark": {"type": "area", "orient": "horizontal", "color": "#d5e1f0", "opacity": 1, "interpolate": "monotone"},
         "encoding": {
           "y": {"field": "v", "type": "quantitative", "scale": {"domain": [-1.05, 8.05], "nice": false, "zero": false}, "axis": {"title": null, "values": [-1,0,1,2,3,4,5,6,7], "labelExpr": "indexof([-1,1,3,5], datum.value) >= 0 ? '' + datum.value : ''"}},
           "x": {"field": "lo", "type": "quantitative", "scale": {"domain": [0, 4], "nice": false, "zero": false}, "axis": {"orient": "top", "labels": false, "ticks": false, "title": null}},
           "x2": {"field": "hi"},
           "detail": {"field": "k"}
         }},
        {"data": {"name": "pts"}, "transform": [{"filter": "datum.g == 'Cd87'"}],
         "mark": {"type": "circle", "size": 20, "color": "#555555", "opacity": 1},
         "encoding": {
           "y": {"field": "v", "type": "quantitative", "scale": {"domain": [-1.05, 8.05], "nice": false, "zero": false}, "axis": {"orient": "right", "title": "Cd87"}},
           "x": {"field": "x", "type": "quantitative", "scale": {"domain": [0, 4], "nice": false, "zero": false}, "axis": {"orient": "top", "labels": false, "ticks": false, "title": null}}
         }}
      ],
      "resolve": {"axis": {"y": "independent"}}
    },
    {
      "width": 715, "height": 122,
      "layer": [
        {"data": {"name": "vio"}, "transform": [{"filter": "datum.g == 'Tspan8'"}],
         "mark": {"type": "area", "orient": "horizontal", "color": "#f6d4db", "opacity": 1, "interpolate": "monotone"},
         "encoding": {
           "y": {"field": "v", "type": "quantitative", "scale": {"domain": [-1, 8.05], "nice": false, "zero": false}, "axis": {"title": null, "values": [-1,0,1,2,3,4,5,6,7], "labelExpr": "indexof([-1,1,3,5], datum.value) >= 0 ? '' + datum.value : ''"}},
           "x": {"field": "lo", "type": "quantitative", "scale": {"domain": [0, 4], "nice": false, "zero": false}, "axis": null},
           "x2": {"field": "hi"},
           "detail": {"field": "k"}
         }},
        {"data": {"name": "pts"}, "transform": [{"filter": "datum.g == 'Tspan8'"}],
         "mark": {"type": "circle", "size": 20, "color": "#555555", "opacity": 1},
         "encoding": {
           "y": {"field": "v", "type": "quantitative", "scale": {"domain": [-1, 8.05], "nice": false, "zero": false}, "axis": {"orient": "right", "title": "Tspan8"}},
           "x": {"field": "x", "type": "quantitative", "scale": {"domain": [0, 4], "nice": false, "zero": false}, "axis": null}
         }}
      ],
      "resolve": {"axis": {"y": "independent"}}
    },
    {
      "width": 715, "height": 122,
      "layer": [
        {"data": {"name": "vio"}, "transform": [{"filter": "datum.g == 'Cd93'"}],
         "mark": {"type": "area", "orient": "horizontal", "color": "#d0edd3", "opacity": 1, "interpolate": "monotone"},
         "encoding": {
           "y": {"field": "v", "type": "quantitative", "scale": {"domain": [-1, 8.15], "nice": false, "zero": false}, "axis": {"title": null, "values": [-1,0,1,2,3,4,5,6,7], "labelExpr": "indexof([-1,1,3,5], datum.value) >= 0 ? '' + datum.value : ''"}},
           "x": {"field": "lo", "type": "quantitative", "scale": {"domain": [0, 4], "nice": false, "zero": false}, "axis": null},
           "x2": {"field": "hi"},
           "detail": {"field": "k"}
         }},
        {"data": {"name": "pts"}, "transform": [{"filter": "datum.g == 'Cd93'"}],
         "mark": {"type": "circle", "size": 20, "color": "#555555", "opacity": 1},
         "encoding": {
           "y": {"field": "v", "type": "quantitative", "scale": {"domain": [-1, 8.15], "nice": false, "zero": false}, "axis": {"orient": "right", "title": "Cd93"}},
           "x": {"field": "x", "type": "quantitative", "scale": {"domain": [0, 4], "nice": false, "zero": false}, "axis": null}
         }}
      ],
      "resolve": {"axis": {"y": "independent"}}
    },
    {
      "width": 715, "height": 122,
      "layer": [
        {"data": {"name": "vio"}, "transform": [{"filter": "datum.g == 'F2r'"}],
         "mark": {"type": "area", "orient": "horizontal", "color": "#e2d9ec", "opacity": 1, "interpolate": "monotone"},
         "encoding": {
           "y": {"field": "v", "type": "quantitative", "scale": {"domain": [-0.5, 6.06], "nice": false, "zero": false}, "axis": {"title": "Log₂TPM", "titleFontSize": 50, "titleX": -47, "titleY": 115, "values": [-0.5,0,0.5,1,1.5,2,2.5,3,3.5,4,4.5,5,5.5], "labelExpr": "indexof([0,2,4], datum.value) >= 0 ? '' + datum.value : ''"}},
           "x": {"field": "lo", "type": "quantitative", "scale": {"domain": [0, 4], "nice": false, "zero": false}, "axis": null},
           "x2": {"field": "hi"},
           "detail": {"field": "k"}
         }},
        {"data": {"name": "pts"}, "transform": [{"filter": "datum.g == 'F2r'"}],
         "mark": {"type": "circle", "size": 20, "color": "#555555", "opacity": 1},
         "encoding": {
           "y": {"field": "v", "type": "quantitative", "scale": {"domain": [-0.5, 6.06], "nice": false, "zero": false}, "axis": {"orient": "right", "title": "F2r"}},
           "x": {"field": "x", "type": "quantitative", "scale": {"domain": [0, 4], "nice": false, "zero": false}, "axis": null}
         }}
      ],
      "resolve": {"axis": {"y": "independent"}}
    },
    {
      "width": 715, "height": 122,
      "layer": [
        {"data": {"name": "vio"}, "transform": [{"filter": "datum.g == 'Il1r2'"}],
         "mark": {"type": "area", "orient": "horizontal", "color": "#f6e4d6", "opacity": 1, "interpolate": "monotone"},
         "encoding": {
           "y": {"field": "v", "type": "quantitative", "scale": {"domain": [-1, 8.15], "nice": false, "zero": false}, "axis": {"title": null, "values": [-1,0,1,2,3,4,5,6,7], "labelExpr": "indexof([-1,1,3,5], datum.value) >= 0 ? '' + datum.value : ''"}},
           "x": {"field": "lo", "type": "quantitative", "scale": {"domain": [0, 4], "nice": false, "zero": false}, "axis": null},
           "x2": {"field": "hi"},
           "detail": {"field": "k"}
         }},
        {"data": {"name": "pts"}, "transform": [{"filter": "datum.g == 'Il1r2'"}],
         "mark": {"type": "circle", "size": 20, "color": "#555555", "opacity": 1},
         "encoding": {
           "y": {"field": "v", "type": "quantitative", "scale": {"domain": [-1, 8.15], "nice": false, "zero": false}, "axis": {"orient": "right", "title": "Il1r2"}},
           "x": {"field": "x", "type": "quantitative", "scale": {"domain": [0, 4], "nice": false, "zero": false}, "axis": null}
         }}
      ],
      "resolve": {"axis": {"y": "independent"}}
    },
    {
      "width": 715, "height": 122,
      "layer": [
        {"data": {"name": "vio"}, "transform": [{"filter": "datum.g == 'Sez6'"}],
         "mark": {"type": "area", "orient": "horizontal", "color": "#c9ede3", "opacity": 1, "interpolate": "monotone"},
         "encoding": {
           "y": {"field": "v", "type": "quantitative", "scale": {"domain": [-1.05, 9.3], "nice": false, "zero": false}, "axis": {"title": null, "values": [-1,0,1,2,3,4,5,6,7,8], "labelExpr": "indexof([0,4], datum.value) >= 0 ? '' + datum.value : ''"}},
           "x": {"field": "lo", "type": "quantitative", "scale": {"domain": [0, 4], "nice": false, "zero": false}, "axis": null},
           "x2": {"field": "hi"},
           "detail": {"field": "k"}
         }},
        {"data": {"name": "pts"}, "transform": [{"filter": "datum.g == 'Sez6'"}],
         "mark": {"type": "circle", "size": 20, "color": "#555555", "opacity": 1},
         "encoding": {
           "y": {"field": "v", "type": "quantitative", "scale": {"domain": [-1.05, 9.3], "nice": false, "zero": false}, "axis": {"orient": "right", "title": "Sez6"}},
           "x": {"field": "x", "type": "quantitative", "scale": {"domain": [0, 4], "nice": false, "zero": false}, "axis": null}
         }}
      ],
      "resolve": {"axis": {"y": "independent"}}
    },
    {
      "width": 715, "height": 122,
      "layer": [
        {"data": {"name": "vio"}, "transform": [{"filter": "datum.g == 'Cr2'"}],
         "mark": {"type": "area", "orient": "horizontal", "color": "#ecd9e9", "opacity": 1, "interpolate": "monotone"},
         "encoding": {
           "y": {"field": "v", "type": "quantitative", "scale": {"domain": [-0.5, 3.5], "nice": false, "zero": false}, "axis": {"title": null, "values": [-0.5,0,0.5,1,1.5,2,2.5,3,3.5], "labelExpr": "indexof([-0.5,0.5,1.5,2.5], datum.value) >= 0 ? '' + datum.value : ''"}},
           "x": {"field": "lo", "type": "quantitative", "scale": {"domain": [0, 4], "nice": false, "zero": false}, "axis": null},
           "x2": {"field": "hi"},
           "detail": {"field": "k"}
         }},
        {"data": {"name": "pts"}, "transform": [{"filter": "datum.g == 'Cr2'"}],
         "mark": {"type": "circle", "size": 20, "color": "#555555", "opacity": 1},
         "encoding": {
           "y": {"field": "v", "type": "quantitative", "scale": {"domain": [-0.5, 3.5], "nice": false, "zero": false}, "axis": {"orient": "right", "title": "Cr2"}},
           "x": {"field": "x", "type": "quantitative", "scale": {"domain": [0, 4], "nice": false, "zero": false}, "axis": null}
         }}
      ],
      "resolve": {"axis": {"y": "independent"}}
    },
    {
      "width": 715, "height": 122,
      "layer": [
        {"data": {"name": "vio"}, "transform": [{"filter": "datum.g == 'Slc2a3'"}],
         "mark": {"type": "area", "orient": "horizontal", "color": "#f0eecd", "opacity": 1, "interpolate": "monotone"},
         "encoding": {
           "y": {"field": "v", "type": "quantitative", "scale": {"domain": [-1.05, 9.3], "nice": false, "zero": false}, "axis": {"title": null, "values": [-1,0,1,2,3,4,5,6,7,8], "labelExpr": "indexof([0,4], datum.value) >= 0 ? '' + datum.value : ''"}},
           "x": {"field": "lo", "type": "quantitative", "scale": {"domain": [0, 4], "nice": false, "zero": false}, "axis": {"orient": "bottom", "title": null, "ticks": false, "values": [0.5, 1.5, 2.5, 3.5], "labelExpr": "datum.value == 0.5 ? 'I' : datum.value == 1.5 ? 'II' : datum.value == 2.5 ? 'III' : 'IV'", "labelFontSize": 40, "labelBaseline": "top", "labelFlush": false, "labelPadding": {"condition": {"test": "datum.value == 3.5", "value": 28}, "value": 15}, "labelOffset": {"condition": {"test": "datum.value == 3.5", "value": 60}, "value": 0}}},
           "x2": {"field": "hi"},
           "detail": {"field": "k"}
         }},
        {"data": {"name": "pts"}, "transform": [{"filter": "datum.g == 'Slc2a3'"}],
         "mark": {"type": "circle", "size": 20, "color": "#555555", "opacity": 1},
         "encoding": {
           "y": {"field": "v", "type": "quantitative", "scale": {"domain": [-1.05, 9.3], "nice": false, "zero": false}, "axis": {"orient": "right", "title": "Slc2a3"}},
           "x": {"field": "x", "type": "quantitative", "scale": {"domain": [0, 4], "nice": false, "zero": false}, "axis": {"orient": "bottom", "title": null, "ticks": false, "values": [0.5, 1.5, 2.5, 3.5], "labelExpr": "datum.value == 0.5 ? 'I' : datum.value == 1.5 ? 'II' : datum.value == 2.5 ? 'III' : 'IV'", "labelFontSize": 40, "labelBaseline": "top", "labelFlush": false, "labelPadding": {"condition": {"test": "datum.value == 3.5", "value": 28}, "value": 15}, "labelOffset": {"condition": {"test": "datum.value == 3.5", "value": 60}, "value": 0}}}
         }}
      ],
      "resolve": {"axis": {"y": "independent"}}
    }
  ]
}
